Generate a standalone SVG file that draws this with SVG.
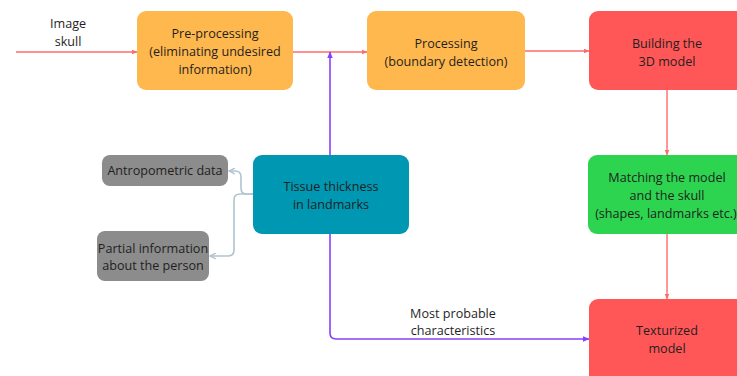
<svg xmlns="http://www.w3.org/2000/svg" width="737" height="376" viewBox="0 0 737 376">
  <style>
    .lbl { font-family: "Open Sans", "Liberation Sans", sans-serif; font-size: 12.6px; fill: #1f1f1f; text-anchor: middle; }
    .orange { fill: #ffb84d; }
    .red { fill: #ff5757; }
    .green { fill: #2dd44f; }
    .teal { fill: #0097b2; }
    .grey { fill: #8c8c8c; }
    .flow { fill: none; stroke: #ff6b6b; stroke-width: 1.4; }
    .info { fill: none; stroke: #8a3ffc; stroke-width: 1.6; }
    .side { fill: none; stroke: #b0c4d0; stroke-width: 1.6; }
  </style>
  <defs>
    <marker id="arrRed" viewBox="0 0 6 6" refX="5.5" refY="3" markerWidth="6" markerHeight="6" orient="auto" markerUnits="userSpaceOnUse">
      <path d="M0,0.5 L6,3 L0,5.5 Z" fill="#ff6b6b"/>
    </marker>
    <marker id="arrPurple" viewBox="0 0 6 6" refX="5.5" refY="3" markerWidth="7" markerHeight="7" orient="auto" markerUnits="userSpaceOnUse">
      <path d="M0,0.5 L6,3 L0,5.5 Z" fill="#8a3ffc"/>
    </marker>
    <marker id="arrGrey" viewBox="0 0 6 6" refX="5" refY="3" markerWidth="7" markerHeight="7" orient="auto" markerUnits="userSpaceOnUse">
      <path d="M0,0.5 L5,3 L0,5.5" fill="none" stroke="#b0c4d0" stroke-width="1.2"/>
    </marker>
  </defs>

  <rect width="737" height="376" fill="#ffffff"/>

  <!-- connectors -->
  <g id="connectors">
    <line class="flow" x1="16" y1="52" x2="137" y2="52" marker-end="url(#arrRed)"/>
    <line class="flow" x1="293" y1="52" x2="367" y2="52" marker-end="url(#arrRed)"/>
    <line class="flow" x1="525" y1="51" x2="589" y2="51" marker-end="url(#arrRed)"/>
    <line class="flow" x1="667" y1="90" x2="667" y2="155" marker-end="url(#arrRed)"/>
    <line class="flow" x1="667" y1="234" x2="667" y2="299" marker-end="url(#arrRed)"/>
    <line class="info" x1="330" y1="155" x2="330" y2="52" marker-end="url(#arrPurple)"/>
    <path class="info" d="M330,234 L330,333 Q330,339 336,339 L589,339" marker-end="url(#arrPurple)"/>
    <path class="side" d="M253,194 L246,194 Q241,194 241,188 L241,177 Q241,171 235,171 L229,171" marker-end="url(#arrGrey)"/>
    <path class="side" d="M253,194 L240,194 Q234,194 234,200 L234,250 Q234,256 228,256 L210,256" marker-end="url(#arrGrey)"/>
  </g>

  <!-- input label -->
  <text class="lbl" x="68" y="28">Image</text>
  <text class="lbl" x="68" y="46">skull</text>

  <g id="preprocessing">
    <rect class="orange" x="137" y="11" width="156" height="79" rx="9"/>
    <text class="lbl" x="215" y="38">Pre-processing</text>
    <text class="lbl" x="215" y="56">(eliminating undesired</text>
    <text class="lbl" x="215" y="74">information)</text>
  </g>

  <g id="processing">
    <rect class="orange" x="367" y="11" width="158" height="79" rx="9"/>
    <text class="lbl" x="446" y="48">Processing</text>
    <text class="lbl" x="446" y="66">(boundary detection)</text>
  </g>

  <g id="building">
    <rect class="red" x="589" y="11" width="160" height="79" rx="9"/>
    <text class="lbl" x="667" y="48">Building the</text>
    <text class="lbl" x="667" y="66">3D model</text>
  </g>

  <g id="matching">
    <rect class="green" x="588" y="155" width="161" height="79" rx="9"/>
    <text class="lbl" x="667" y="182">Matching the model</text>
    <text class="lbl" x="667" y="200">and the skull</text>
    <text class="lbl" x="666" y="218">(shapes, landmarks etc.)</text>
  </g>

  <g id="texturized">
    <rect class="red" x="589" y="299" width="160" height="90" rx="9"/>
    <text class="lbl" x="667" y="335">Texturized</text>
    <text class="lbl" x="667" y="353">model</text>
  </g>

  <g id="tissue">
    <rect class="teal" x="253" y="155" width="156" height="79" rx="9"/>
    <text class="lbl" x="331" y="191">Tissue thickness</text>
    <text class="lbl" x="331" y="209">in landmarks</text>
  </g>

  <g id="antropometric">
    <rect class="grey" x="102" y="155" width="126" height="31" rx="8"/>
    <text class="lbl" x="165" y="175">Antropometric data</text>
  </g>

  <g id="partial">
    <rect class="grey" x="97" y="231" width="112" height="50" rx="8"/>
    <text class="lbl" x="153" y="253">Partial information</text>
    <text class="lbl" x="153" y="270">about the person</text>
  </g>

  <!-- label on the lower purple connector -->
  <text class="lbl" x="453" y="318">Most probable</text>
  <text class="lbl" x="453" y="335">characteristics</text>
</svg>
